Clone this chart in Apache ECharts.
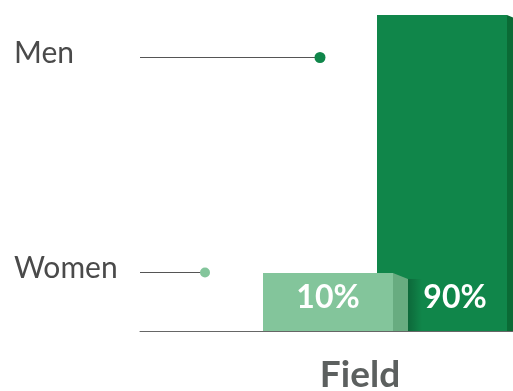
<!DOCTYPE html>
<html>
<head>
<meta charset="utf-8">
<script src="https://cdn.jsdelivr.net/npm/echarts@6/dist/echarts.min.js"></script>
<style>
  html, body { margin: 0; padding: 0; background: #fff; }
  #chart { width: 513px; height: 391px; }
</style>
</head>
<body>
<div id="chart"></div>
<script>
var categories = ['Field']
var groups = ['Women', 'Men']
var values = [10, 90]
var labels = ['10%', '90%']

var yMin = -8   // bars are stylised: the baseline sits below zero
var front = { Women: '#83c59b', Men: '#10864a' }
var side = { Women: '#68ac80', Men: '#0a6b35' }
var shiftX = { Women: -63.5, Men: 50.5 }   // left edge of each bar, from the category centre
var labelX = { Women: 65, Men: 78 }
var legendPos = { Women: { y: 272.5, dot: 205, r: 5 }, Men: { y: 57.5, dot: 320, r: 5.5 } }

var chart = echarts.init(document.getElementById('chart'))

// men first so the women bar sits in front of it
var seriesData = groups.map(function (g, i) { return [0, values[i], i] }).reverse()

function renderBar(params, api) {
  var g = groups[api.value(2)]
  var top = api.coord([api.value(0), api.value(1)])
  var base = api.coord([api.value(0), yMin])
  var x0 = top[0] + shiftX[g]
  var w = 130, d = 15, s = 6
  var children = [
    { type: 'rect', shape: { x: x0, y: top[1], width: w, height: base[1] - top[1] }, style: { fill: front[g] } },
    { type: 'polygon', shape: { points: [[x0 + w, top[1]], [x0 + w + d, top[1] + s], [x0 + w + d, base[1]], [x0 + w, base[1]]] }, style: { fill: side[g] } }
  ]
  if (g === 'Women') {
    children.push({
      type: 'rect',
      shape: { x: x0 + w + d, y: top[1] + s, width: 14, height: base[1] - top[1] - s },
      style: { fill: new echarts.graphic.LinearGradient(0, 0, 1, 0, [{ offset: 0, color: 'rgba(0,0,0,0.22)' }, { offset: 1, color: 'rgba(0,0,0,0)' }]) }
    })
  }
  children.push({
    type: 'text',
    style: {
      text: labels[api.value(2)], x: x0 + labelX[g], y: base[1] - 33,
      align: 'center', verticalAlign: 'middle',
      fill: '#fff', font: 'bold 32px Lato'
    }
  })
  return { type: 'group', children: children }
}

var graphics = []
groups.forEach(function (g) {
  var p = legendPos[g]
  graphics.push({ type: 'text', left: 14, top: p.y - 19, style: { text: g, fill: '#4a4a4a', font: '30px Lato' } })
  graphics.push({ type: 'line', shape: { x1: 140, y1: p.y, x2: p.dot, y2: p.y }, style: { stroke: '#555', lineWidth: 1 } })
  graphics.push({ type: 'circle', shape: { cx: p.dot, cy: p.y, r: p.r }, style: { fill: front[g] } })
})

chart.setOption({
  animation: false,
  grid: { left: 140, right: 0, top: 15, bottom: 60, outerBoundsMode: 'none' },
  xAxis: {
    type: 'category',
    data: categories,
    axisLine: { onZero: false, lineStyle: { color: '#666', width: 1 } },
    axisTick: { show: false },
    axisLabel: {
      margin: 26,
      formatter: '{a|{value}}',
      rich: { a: { color: '#5c605f', fontSize: 37, fontWeight: 'bold', fontFamily: 'Lato', padding: [0, 0, 0, 67] } }
    }
  },
  yAxis: { type: 'value', min: yMin, max: 90, show: false },
  graphic: graphics,
  series: [{
    type: 'custom',
    renderItem: renderBar,
    data: seriesData,
    clip: false
  }]
})
</script>
</body>
</html>
